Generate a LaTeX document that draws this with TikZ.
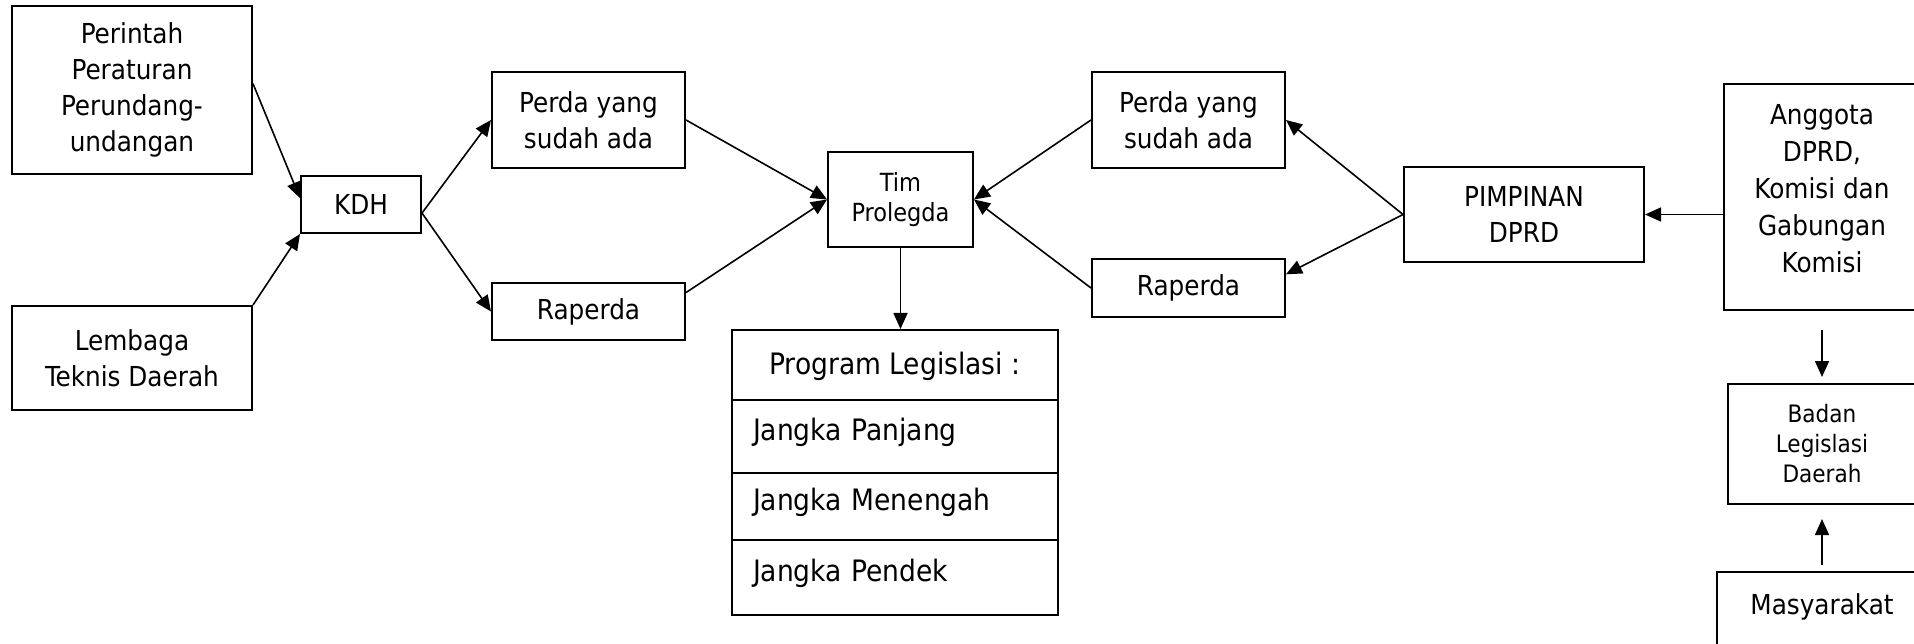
\documentclass[tikz,border=0pt]{standalone}
\usepackage{fontspec}
\setmainfont{DejaVu Sans Condensed}
\usetikzlibrary{arrows.meta}

\begin{document}
\begin{tikzpicture}[x=1pt,y=-1pt,
	box/.style={shape=rectangle,draw=black,line width=2pt,inner sep=0pt,align=center,font=\fontsize{27.5}{36}\selectfont},
	kecil/.style={font=\fontsize{25}{30}\selectfont},
	mini/.style={font=\fontsize{24}{30}\selectfont},
	baris/.style={box,minimum width=326pt,text width=284pt,inner xsep=21pt,align=left,text height=22pt,text depth=14pt,font=\fontsize{29.5}{36}\selectfont},
	arr/.style={-{Triangle[length=16pt,width=14pt]},line width=1.6pt}]

	\fill[white] (0,0) rectangle (1914,644);
	\useasboundingbox (0,0) rectangle (1914,644);

	\node[box,minimum width=240pt,minimum height=168pt] (perintah) at (132, 90) {Perintah\\Peraturan\\Perundang-\\undangan};
	\node[box,minimum width=240pt,minimum height=104pt] (lembaga) at (132, 358) {Lembaga\\Teknis Daerah};
	\node[box,minimum width=120pt,minimum height=57pt] (kdh) at (361, 204.5) {KDH};
	\node[box,minimum width=193pt,minimum height=96pt] (perdakiri) at (588.5, 120) {Perda yang\\sudah ada};
	\node[box,minimum width=193pt,minimum height=57pt] (raperdakiri) at (588.5, 311.5) {Raperda};
	\node[box,kecil,minimum width=145pt,minimum height=95pt] (tim) at (900.5, 199.5) {Tim\\Prolegda};

	\node[box,minimum width=326pt,minimum height=70pt,text height=22pt,text depth=4pt,font=\fontsize{29.5}{36}\selectfont] (judul) at (895, 365) {Program Legislasi :};
	\node[baris,minimum height=73pt] (panjang) at (895, 436.5) {Jangka Panjang};
	\node[baris,minimum height=67pt] (menengah) at (895, 506.5) {Jangka Menengah};
	\node[baris,minimum height=75pt] (pendek) at (895, 577.5) {Jangka Pendek};

	\node[box,minimum width=193pt,minimum height=96pt] (perdakanan) at (1188.5, 120) {Perda yang\\sudah ada};
	\node[box,minimum width=193pt,minimum height=58pt] (raperdakanan) at (1188.5, 288) {Raperda};
	\node[box,minimum width=240pt,minimum height=95pt] (pimpinan) at (1524, 214.5) {PIMPINAN\\DPRD};
	\node[box,minimum width=196pt,minimum height=226pt] (anggota) at (1822, 197) {};
	\node[box,draw=none,anchor=north,font=\fontsize{27.5}{37}\selectfont] (anggotateks) at (1822, 103) {Anggota\\DPRD,\\Komisi dan\\Gabungan\\Komisi};
	\node[box,mini,minimum width=188pt,minimum height=120pt] (badan) at (1822, 444) {Badan\\Legislasi\\Daerah};
	\node[box,minimum width=210pt,minimum height=84pt,text height=20pt,text depth=20pt] (masyarakat) at (1822, 614) {Masyarakat};

	\path[arr] (perintah.3) edge (kdh.174);
	\path[arr] (lembaga.north east) edge (kdh.south west);
	\path[arr] (kdh.-8) edge (perdakiri.west);
	\path[arr] (kdh.-8) edge (raperdakiri.west);
	\path[arr] (perdakiri.east) edge (tim.west);
	\path[arr] (raperdakiri.11) edge (tim.west);
	\path[arr] (tim.south) edge (tim.south |- judul.north);
	\path[arr] (perdakanan.west) edge (tim.east);
	\path[arr] (raperdakanan.west) edge (tim.east);
	\path[arr] (pimpinan.west) edge (perdakanan.east);
	\path[arr] (pimpinan.west) edge (raperdakanan.8);
	\path[arr] (anggota.west |- pimpinan.east) edge (pimpinan.east);
	\path[arr] ([yshift=-19pt]anggota.south) edge ([yshift=6pt]badan.north);
	\path[arr] ([yshift=6pt]masyarakat.north) edge ([yshift=-14pt]badan.south);

\end{tikzpicture}
\end{document}
